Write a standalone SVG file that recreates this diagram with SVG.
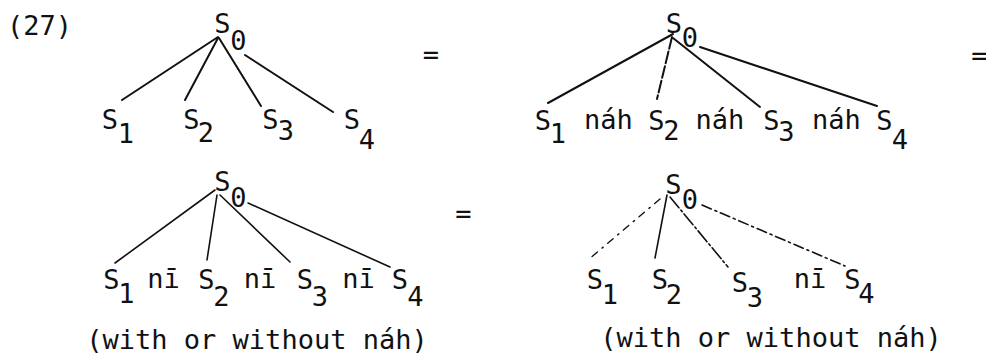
<svg xmlns="http://www.w3.org/2000/svg" width="986" height="360" viewBox="0 0 986 360">
<style>
  text { font-family: "DejaVu Sans Mono", "Liberation Mono", monospace; font-size: 27px; fill: #111; text-anchor: middle; }
  .edge { stroke: #111; stroke-width: 2; fill: none; stroke-linecap: round; }
  .thin { stroke-width: 1.6; }
  .d1 { stroke-dasharray: 7 6 1.5 6; stroke-width: 1.4; }
  .d2 { stroke-dasharray: 14 3 2 3; }
  .d3 { stroke-dasharray: 10 4 2 4; }
  .d4 { stroke-dasharray: 12 3; }
</style>
<rect width="986" height="360" fill="#fff"/>
<text x="39.5" y="35">(27)</text>

<g id="connectors">
  <line class="edge" x1="218" y1="37" x2="122" y2="100"/>
  <line class="edge" x1="218" y1="38" x2="185" y2="100"/>
  <line class="edge" x1="219" y1="38" x2="261" y2="106"/>
  <line class="edge" x1="245" y1="55" x2="333" y2="112"/>

  <line class="edge" x1="673" y1="34" x2="548" y2="103"/>
  <line class="edge d4" x1="672" y1="37" x2="657" y2="99"/>
  <line class="edge" x1="673" y1="38" x2="760" y2="107"/>
  <line class="edge" x1="700" y1="47" x2="877" y2="106"/>

  <line class="edge thin" x1="215" y1="190" x2="115" y2="263"/>
  <line class="edge thin" x1="217" y1="195" x2="207" y2="260"/>
  <line class="edge thin" x1="220" y1="195" x2="290" y2="262"/>
  <line class="edge thin" x1="248" y1="203" x2="390" y2="267"/>

  <line class="edge d1" x1="660" y1="199" x2="588" y2="260"/>
  <line class="edge thin" x1="667" y1="195" x2="655" y2="258"/>
  <line class="edge thin d2" x1="670" y1="197" x2="728" y2="267"/>
  <line class="edge thin d3" x1="702" y1="205" x2="845" y2="266"/>
</g>

<g id="tl-S0"><text x="222.5" y="33">S</text><text x="238.5" y="50">0</text></g>
<g id="tl-S1"><text x="110" y="129">S</text><text x="126" y="143">1</text></g>
<g id="tl-S2"><text x="191.5" y="129">S</text><text x="206" y="142">2</text></g>
<g id="tl-S3"><text x="270.5" y="129">S</text><text x="286" y="140">3</text></g>
<g id="tl-S4"><text x="352" y="129">S</text><text x="367" y="149">4</text></g>
<text x="431" y="64">=</text>

<g id="tr-S0"><text x="674" y="33">S</text><text x="690" y="47">0</text></g>
<g id="tr-S1"><text x="543" y="130">S</text><text x="558" y="143">1</text></g>
<text x="608.5" y="129">náh</text>
<g id="tr-S2"><text x="656.5" y="130">S</text><text x="671.5" y="140">2</text></g>
<text x="720" y="129">náh</text>
<g id="tr-S3"><text x="771.5" y="130">S</text><text x="786.5" y="141">3</text></g>
<text x="836.5" y="129">náh</text>
<g id="tr-S4"><text x="884.5" y="130">S</text><text x="900" y="149">4</text></g>
<text x="979.5" y="65">=</text>

<g id="bl-S0"><text x="222.5" y="191">S</text><text x="238.5" y="207">0</text></g>
<g id="bl-S1"><text x="111.5" y="289">S</text><text x="126.5" y="303">1</text></g>
<text x="163.5" y="288">nī</text>
<g id="bl-S2"><text x="206.5" y="289">S</text><text x="221.5" y="306">2</text></g>
<text x="260" y="288">nī</text>
<g id="bl-S3"><text x="305" y="289">S</text><text x="320" y="306">3</text></g>
<text x="358.5" y="288">nī</text>
<g id="bl-S4"><text x="400" y="289">S</text><text x="415.5" y="306">4</text></g>
<text x="257" y="349">(with or without náh)</text>
<text x="463.5" y="223">=</text>

<g id="br-S0"><text x="673.5" y="194">S</text><text x="690" y="209">0</text></g>
<g id="br-S1"><text x="595" y="289">S</text><text x="610" y="304">1</text></g>
<g id="br-S2"><text x="660" y="289">S</text><text x="674" y="304">2</text></g>
<g id="br-S3"><text x="740" y="292">S</text><text x="755" y="307">3</text></g>
<text x="810" y="288">nī</text>
<g id="br-S4"><text x="852.5" y="289">S</text><text x="866.5" y="303">4</text></g>
<text x="771" y="347">(with or without náh)</text>
</svg>
